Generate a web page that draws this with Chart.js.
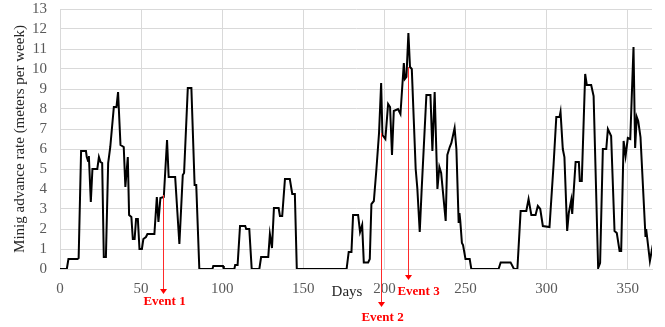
<!DOCTYPE html>
<html>
<head>
<meta charset="utf-8">
<script src="https://cdn.jsdelivr.net/npm/chart.js@4/dist/chart.umd.min.js"></script>
<style>
  html, body { margin: 0; padding: 0; background: #fff; }
  #wrap { width: 665px; height: 327px; }
</style>
</head>
<body>
<div id="wrap"><canvas id="c" width="665" height="327"></canvas></div>
<script>
// Day of year for each reading
const days = [
  0, 4.2, 5.2, 10.8, 11.5, 13, 16, 16.5, 17.3, 17.8, 19, 20, 23, 24, 25, 26, 27, 28.3, 29.7, 31,
  33.2, 34.8, 35.8, 37.3, 39.3, 40.3, 41.8, 42.6, 44, 44.9, 46, 46.9, 48, 49, 50.5, 51.4, 53, 53.9,
  58.2, 59.7, 60.7, 61.9, 64, 66, 67, 71, 73.6, 75.7, 76.5, 78.8, 81, 83, 84, 85.9, 94, 94.5, 100.5,
  101, 107.5, 108, 109.5, 111, 114.2, 114.8, 116.7, 118.2, 122.9, 124, 128.4, 129.4, 130.7, 131.9,
  134.8, 135.6, 137, 138.7, 141.7, 143.2, 144.8, 146, 176.7, 178, 179.7, 180.7, 183.8, 185, 186.3,
  187.3, 190, 191, 192, 193.5, 195.1, 196.7, 198, 198.8, 200.6, 202.3, 203.5, 204.7, 205.8, 208.4,
  209.9, 212, 212.6, 213.6, 214.8, 215.8, 216.9, 218.1, 219.3, 220.3, 221.8, 223, 225.9, 228.4,
  229.6, 231, 232.7, 233.9, 235, 237.8, 238.8, 240.3, 241.3, 243.3, 244.4, 245.8, 246.3, 246.8,
  247.8, 248.5, 250, 252.6, 253.6, 270.4, 271.7, 277.8, 279.9, 282, 284, 287.5, 288.9, 290.6, 293.2,
  294.6, 296.1, 297.7, 301.8, 304.3, 306, 308, 308.6, 310, 311, 312.7, 313.7, 315.2, 315.8, 317.9,
  319.9, 320.5, 321.7, 323.8, 324.8, 327.5, 329, 331.8, 333, 334.7, 336.8, 337.8, 339.8, 341.9,
  343.3, 345, 346, 347.5, 348.7, 350.1, 351.6, 353.6, 354.6, 355.6, 356.5, 357.9, 361, 361.4,
  363.7, 365.5
];

// Advance rate in meters per week
const rates = [
  0, 0, 0.5, 0.5, 0.55, 5.9, 5.9, 5.6, 5.4, 5.65, 3.35, 5.0, 5.0, 5.6, 5.35, 5.3, 0.6, 0.6, 5.3, 6.1,
  8.1, 8.1, 8.85, 6.2, 6.1, 4.1, 5.6, 2.7, 2.6, 1.5, 1.5, 2.5, 2.5, 1.0, 1.0, 1.5, 1.6, 1.75,
  1.75, 3.6, 2.35, 3.55, 3.6, 6.45, 4.6, 4.6, 1.25, 4.7, 4.8, 9.05, 9.05, 4.2, 4.2, 0, 0, 0.15, 0.15,
  0, 0, 0.2, 0.2, 2.15, 2.15, 2.0, 2.0, 0, 0, 0.6, 0.6, 1.75, 1.05, 3.05,
  3.05, 2.65, 2.65, 4.5, 4.5, 3.75, 3.75, 0, 0, 0.85, 0.85, 2.7, 2.7, 1.85, 2.2,
  0.33, 0.33, 0.5, 3.25, 3.4, 5.0, 6.8, 9.3, 6.7, 6.5, 8.25, 8.1, 5.7, 7.9, 8.0,
  7.75, 10.3, 9.5, 9.6, 11.8, 10.1, 10.0, 7.5, 5.0, 4.05, 1.85, 4.0, 8.7, 8.7,
  5.9, 8.85, 4.0, 5.1, 4.8, 2.4, 5.7, 6.1, 6.3, 7.05, 6.0, 2.3, 2.8, 2.4,
  1.3, 1.2, 0.5, 0.5, 0, 0, 0.33, 0.33, 0, 0, 2.9, 2.9, 3.5, 2.7, 2.7,
  3.15, 3.0, 2.15, 2.1, 5.2, 7.6, 7.6, 7.85, 6.0, 5.6, 1.9, 2.8, 3.45, 2.75, 5.35,
  5.35, 4.4, 4.4, 9.75, 9.2, 9.2, 8.65, 0.05, 0.3, 6.0, 6.0, 7.0, 6.65, 1.9,
  1.8, 0.9, 0.9, 6.4, 5.65, 6.55, 6.5, 11.1, 6.05, 7.6, 7.4, 6.6, 1.6, 2.0,
  0.4, 1.2
];

const xTickValues = [0, 50, 100, 150, 200, 250, 300, 350];
const yTickValues = [0, 1, 2, 3, 4, 5, 6, 7, 8, 9, 10, 11, 12, 13];

// Marked events: day, rate where the arrow leaves the curve
const eventNames = ['Event 1', 'Event 2', 'Event 3'];
const eventDays = [63.4, 198.2, 214.6];
const eventRates = [3.7, 6.8, 10.1];

const SERIF = '"Liberation Serif", "Times New Roman", serif';

const points = days.map((d, i) => ({ x: d, y: rates[i] }));

// Draws the "Days" caption and the red event arrows with their labels
const annotations = {
  id: 'annotations',
  afterDraw(chart) {
    const { ctx, scales: { x, y } } = chart;
    ctx.save();
    ctx.font = '15px ' + SERIF;
    ctx.fillStyle = '#262626';
    ctx.textAlign = 'center';
    ctx.textBaseline = 'middle';
    ctx.fillText('Days', (x.left + x.right) / 2 - 9, 292);

    const tipY = [294, 307, 280];
    const labelY = [302, 318, 292];
    const labelDx = [1, 1, 10];
    eventDays.forEach((d, i) => {
      const px = Math.round(x.getPixelForValue(d)) + 0.5;
      const top = y.getPixelForValue(eventRates[i]);
      ctx.strokeStyle = '#ff2a2a';
      ctx.lineWidth = 1;
      ctx.beginPath();
      ctx.moveTo(px, top);
      ctx.lineTo(px, tipY[i] - 4);
      ctx.stroke();
      ctx.fillStyle = '#ff0000';
      ctx.beginPath();
      ctx.moveTo(px - 3.5, tipY[i] - 5);
      ctx.lineTo(px + 3.5, tipY[i] - 5);
      ctx.lineTo(px, tipY[i]);
      ctx.closePath();
      ctx.fill();
      ctx.font = 'bold 13px ' + SERIF;
      ctx.fillText(eventNames[i], px + labelDx[i], labelY[i]);
    });
    ctx.restore();
  }
};

new Chart(document.getElementById('c'), {
  type: 'line',
  data: {
    datasets: [{
      data: points,
      borderColor: '#000',
      borderWidth: 2,
      pointRadius: 0,
      tension: 0,
      fill: false
    }]
  },
  options: {
    responsive: false,
    animation: false,
    devicePixelRatio: 1,
    parsing: false,
    layout: { padding: { left: 0, right: 13, top: 9, bottom: 0 } },
    plugins: { legend: { display: false }, tooltip: { enabled: false } },
    scales: {
      x: {
        type: 'linear',
        min: 0,
        max: 365,
        afterFit(scale) {
          scale.height = 58;
          scale.paddingLeft = 0;
          scale.paddingRight = 0;
        },
        afterBuildTicks(scale) { scale.ticks = xTickValues.map(v => ({ value: v })); },
        grid: { color: '#d9d9d9', lineWidth: 1, drawTicks: false },
        border: { color: '#d9d9d9' },
        ticks: {
          padding: 11,
          color: '#595959',
          autoSkip: false,
          font: { family: SERIF, size: 15 },
          maxRotation: 0
        }
      },
      y: {
        min: 0,
        max: 13,
        afterFit(scale) {
          scale.width = 60;
          scale.paddingTop = 0;
          scale.paddingBottom = 0;
        },
        afterBuildTicks(scale) { scale.ticks = yTickValues.map(v => ({ value: v })); },
        grid: { color: '#d9d9d9', lineWidth: 1, drawTicks: false },
        border: { color: '#d9d9d9' },
        ticks: {
          padding: 13,
          color: '#595959',
          autoSkip: false,
          font: { family: SERIF, size: 15 }
        },
        title: {
          display: true,
          text: 'Minig advance rate (meters per week)',
          color: '#262626',
          font: { family: SERIF, size: 15 },
          padding: { top: 11, bottom: 0 }
        }
      }
    }
  },
  plugins: [annotations]
});
</script>
</body>
</html>
